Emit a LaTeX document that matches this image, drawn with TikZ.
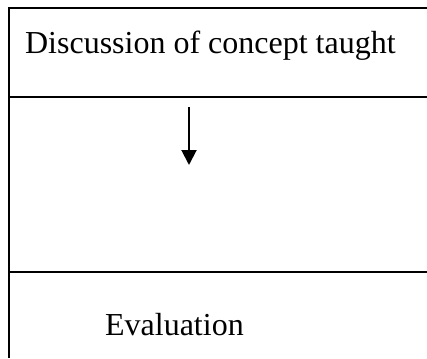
\documentclass[tikz,border=0pt]{standalone}
\usepackage{fontspec}
\setmainfont{Liberation Serif}
\usepackage{tikz}
\usetikzlibrary{arrows.meta,positioning}

\begin{document}
\begin{tikzpicture}[x=1pt,y=-1pt, line width=2.2pt,
    steptext/.style={inner sep=0pt, font=\fontsize{32}{38}\selectfont}]
    \useasboundingbox (0,0) rectangle (427,358);
    % Frame
    \draw (427,8) -- (9,8) -- (9,358);
    \draw (9,97) -- (427,97);
    \draw (9,272) -- (427,272);

    % Nodes
    \node[steptext, anchor=base west] (discuss) at (24,54) {Discussion of concept taught};
    \node[steptext, anchor=base west] (evaluate) at (104,335) {Evaluation};

    % Arrow
    \coordinate (arrtop) at (189,107);
    \coordinate (arrtip) at (189,165);
    \draw[-{Triangle[width=15pt,length=15pt]}, line width=2pt] (arrtop) -- (arrtip);
\end{tikzpicture}
\end{document}
